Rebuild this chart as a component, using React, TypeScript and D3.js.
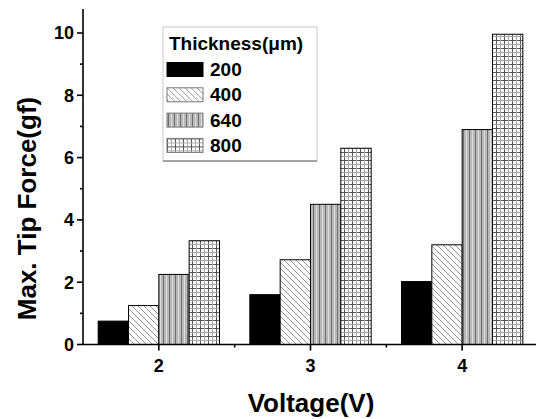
import React, { Component, createRef } from 'react';
import * as d3 from 'd3';

const voltages = [2, 3, 4];
const thicknesses = ['200', '400', '640', '800'];
const force200 = [0.75, 1.6, 2.02];
const force400 = [1.25, 2.72, 3.2];
const force640 = [2.25, 4.5, 6.9];
const force800 = [3.33, 6.3, 9.96];
const yTicks = [0, 2, 4, 6, 8, 10];
const yMinorTicks = [1, 3, 5, 7, 9];
const xMinorTicks = [2.5, 3.5];

const seriesFills = ['#000', 'url(#hatch400)', 'url(#stripe640)', 'url(#grid800)'];
const FONT = '"Liberation Sans", Arial, Helvetica, sans-serif';

class App extends Component {
	width = 536;
	height = 419;
	margin = { top: 9, right: -2, bottom: 74.5, left: 83 };
	svg = createRef<SVGSVGElement>();

	draw() {
		const { width, height, margin } = this;
		const svg = d3.select(this.svg.current);
		svg.selectAll('*').remove();

		const defs = svg.append('defs');

		const hatch = defs.append('pattern')
			.attr('id', 'hatch400').attr('patternUnits', 'userSpaceOnUse')
			.attr('width', 6).attr('height', 6);
		hatch.append('rect').attr('width', 6).attr('height', 6).attr('fill', '#fff');
		hatch.append('path').attr('d', 'M-1,-1 L7,7 M-4,2 L2,8 M2,-4 L8,2')
			.attr('stroke', '#8a8a8a').attr('stroke-width', 0.9);

		const stripe = defs.append('pattern')
			.attr('id', 'stripe640').attr('patternUnits', 'userSpaceOnUse')
			.attr('width', 6).attr('height', 6);
		stripe.append('rect').attr('width', 6).attr('height', 6).attr('fill', '#b8b8b8');
		stripe.append('rect').attr('x', 1).attr('width', 1).attr('height', 6).attr('fill', '#6e6e6e');
		stripe.append('rect').attr('x', 4).attr('width', 1).attr('height', 6).attr('fill', '#dcdcdc');

		const grid = defs.append('pattern')
			.attr('id', 'grid800').attr('patternUnits', 'userSpaceOnUse')
			.attr('width', 8).attr('height', 8);
		grid.append('rect').attr('width', 8).attr('height', 8).attr('fill', '#fff');
		grid.append('path').attr('d', 'M0.5,0 V8 M0,0.5 H8')
			.attr('stroke', '#555').attr('stroke-width', 1);
		grid.append('path').attr('d', 'M4.5,0 V8 M0,4.5 H8')
			.attr('stroke', '#aaa').attr('stroke-width', 1);

		const x = d3.scaleLinear().domain([1.5, 4.5]).range([margin.left, width - margin.right]);
		const y = d3.scaleLinear().domain([0, 10.77]).range([height - margin.bottom, margin.top]);
		const barW = 0.2;

		const series = [force200, force400, force640, force800];
		const g = svg.append('g');
		series.forEach((vals, si) => {
			g.selectAll(null)
				.data(vals)
				.enter()
				.append('rect')
				.attr('x', (d, i) => x(voltages[i] + (si - 2) * barW))
				.attr('width', x(1.5 + barW) - x(1.5))
				.attr('y', d => y(d))
				.attr('height', d => y(0) - y(d))
				.attr('fill', seriesFills[si])
				.attr('stroke', '#000')
				.attr('stroke-width', 1);
		});

		// axes
		const axes = svg.append('g').attr('stroke', '#000').attr('stroke-width', 1.6);
		axes.append('line')
			.attr('x1', x(1.5)).attr('x2', x(1.5))
			.attr('y1', y(0)).attr('y2', y.range()[1]);
		axes.append('line')
			.attr('x1', x(1.5)).attr('x2', x(4.5))
			.attr('y1', y(0)).attr('y2', y(0));

		axes.selectAll(null).data(yTicks).enter().append('line')
			.attr('x1', x(1.5) - 6).attr('x2', x(1.5))
			.attr('y1', d => y(d)).attr('y2', d => y(d));
		axes.selectAll(null).data(yMinorTicks).enter().append('line')
			.attr('x1', x(1.5) - 3).attr('x2', x(1.5))
			.attr('y1', d => y(d)).attr('y2', d => y(d));
		axes.selectAll(null).data(voltages).enter().append('line')
			.attr('x1', d => x(d)).attr('x2', d => x(d))
			.attr('y1', y(0)).attr('y2', y(0) + 6);
		axes.selectAll(null).data(xMinorTicks).enter().append('line')
			.attr('x1', d => x(d)).attr('x2', d => x(d))
			.attr('y1', y(0)).attr('y2', y(0) + 3);

		const text = svg.append('g')
			.attr('font-family', FONT).attr('font-weight', 'bold').attr('fill', '#000');

		text.selectAll(null).data(yTicks).enter().append('text')
			.attr('x', x(1.5) - 9).attr('y', d => y(d) + 6.5)
			.attr('text-anchor', 'end').attr('font-size', 18)
			.text(d => d);
		text.selectAll(null).data(voltages).enter().append('text')
			.attr('x', d => x(d)).attr('y', y(0) + 27.5)
			.attr('text-anchor', 'middle').attr('font-size', 18)
			.text(d => d);

		text.append('text')
			.attr('transform', `translate(36, 208.5) rotate(-90)`)
			.attr('text-anchor', 'middle').attr('font-size', 26)
			.text('Max. Tip Force(gf)');
		text.append('text')
			.attr('x', 311).attr('y', 412)
			.attr('text-anchor', 'middle').attr('font-size', 26)
			.text('Voltage(V)');

		// legend
		const legend = svg.append('g').attr('transform', 'translate(163, 27)');
		legend.append('rect')
			.attr('width', 154).attr('height', 134)
			.attr('fill', '#fff').attr('stroke', '#c8c8c8').attr('stroke-width', 1);
		legend.append('line')
			.attr('x1', 0).attr('x2', 154).attr('y1', 134).attr('y2', 134)
			.attr('stroke', '#666').attr('stroke-width', 1.2);
		legend.append('text')
			.attr('x', 6).attr('y', 23)
			.attr('font-family', FONT).attr('font-weight', 'bold').attr('font-size', 19)
			.text('Thickness(\u03bcm)');

		const items = legend.selectAll(null).data(thicknesses).enter().append('g')
			.attr('transform', (d, i) => `translate(4, ${35.5 + i * 25.3})`);
		items.append('rect')
			.attr('width', 36).attr('height', 14)
			.attr('fill', (d, i) => seriesFills[i])
			.attr('stroke', (d, i) => (i === 0 ? '#000' : '#777'))
			.attr('stroke-width', 1);
		items.append('text')
			.attr('x', 43).attr('y', 13.5)
			.attr('font-family', FONT).attr('font-weight', 'bold').attr('font-size', 19)
			.text(d => d);
	}

	componentDidMount() {
		this.draw();
	}

	render() {
		return (
			<svg ref={this.svg} width={this.width} height={this.height}
				style={{ position: 'absolute', left: 0, top: 0, background: '#fff' }} />
		);
	}
}

export default App;
